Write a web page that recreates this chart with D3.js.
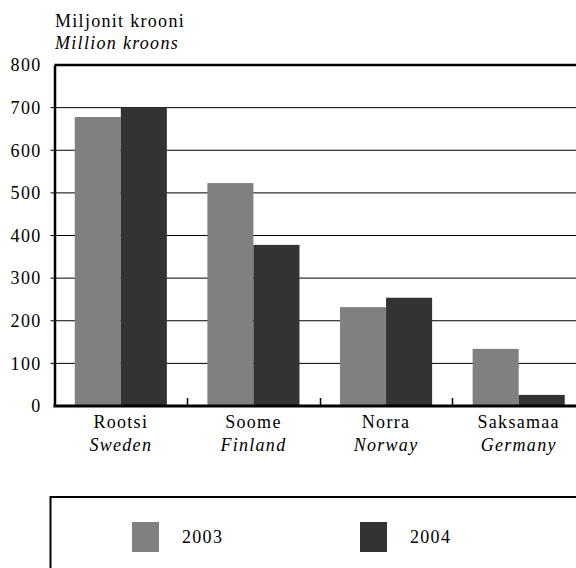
<!DOCTYPE html>
<html><head><meta charset="utf-8">
<script src="https://cdn.jsdelivr.net/npm/d3@7"></script>
<style>
html,body{margin:0;padding:0;background:#fff;overflow:hidden;}
svg text{font-family:"Liberation Serif","Times New Roman",serif;fill:#000;font-size:18px;letter-spacing:1.3px;}
</style></head>
<body>
<svg id="chart" width="576" height="568"></svg>
<script>
const categories = ["Rootsi", "Soome", "Norra", "Saksamaa"];
const categoriesEn = ["Sweden", "Finland", "Norway", "Germany"];
const seriesNames = ["2003", "2004"];
const values2003 = [678, 523, 232, 134];
const values2004 = [700, 378, 254, 26];
const yTicks = [0, 100, 200, 300, 400, 500, 600, 700, 800];
const colors = ["#808080", "#333333"];

const svg = d3.select("#chart");
const mLeft = 54.5, mRight = 585, mTop = 65, mBottom = 406;

const x = d3.scaleBand().domain(categories).range([mLeft, mRight]).paddingInner(0).paddingOuter(0);
const x1 = d3.scaleBand().domain(seriesNames).range([0, x.bandwidth()]).paddingInner(0).paddingOuter(0.44);
const y = d3.scaleLinear().domain([0, 800]).range([mBottom, mTop]);

// gridlines
svg.append("g").selectAll("line").data(yTicks.filter(d => d > 0 && d < 800)).join("line")
  .attr("x1", mLeft - 4).attr("x2", mRight).attr("y1", d => y(d)).attr("y2", d => y(d))
  .attr("stroke", "#000").attr("stroke-width", 1);

// bars
const data = categories.map((c, i) => ({c, vals: [values2003[i], values2004[i]]}));
const groups = svg.append("g").selectAll("g").data(data).join("g")
  .attr("transform", d => `translate(${x(d.c)},0)`);
groups.selectAll("rect").data(d => d.vals.map((v, j) => ({s: seriesNames[j], v, j}))).join("rect")
  .attr("x", d => x1(d.s)).attr("width", x1.bandwidth())
  .attr("y", d => y(d.v)).attr("height", d => mBottom - y(d.v))
  .attr("fill", d => colors[d.j]);

// top border
svg.append("line").attr("x1", mLeft).attr("x2", mRight).attr("y1", mTop).attr("y2", mTop)
  .attr("stroke", "#000").attr("stroke-width", 2.5);

// y axis
const yAxis = d3.axisLeft(y).tickValues(yTicks).tickSize(0).tickPadding(13);
const ya = svg.append("g").attr("transform", `translate(${mLeft},0)`).call(yAxis);
ya.attr("font-family", null).attr("font-size", null);
ya.select(".domain").attr("stroke", "#000").attr("stroke-width", 2.5);
ya.selectAll("text").attr("fill", "#000");

// category separator ticks
svg.append("g").selectAll("line").data(categories.slice(1)).join("line")
  .attr("x1", d => Math.round(x(d)) + 0.5).attr("x2", d => Math.round(x(d)) + 0.5)
  .attr("y1", mBottom - 8).attr("y2", mBottom)
  .attr("stroke", "#000").attr("stroke-width", 1.5);

// x axis line
svg.append("line").attr("x1", mLeft - 1).attr("x2", mRight).attr("y1", mBottom).attr("y2", mBottom)
  .attr("stroke", "#000").attr("stroke-width", 3);

// category labels
categories.forEach((c, i) => {
  const cx = x(c) + x.bandwidth() / 2;
  svg.append("text").attr("x", cx).attr("y", 428).attr("text-anchor", "middle").text(c);
  svg.append("text").attr("x", cx).attr("y", 451).attr("text-anchor", "middle")
    .style("font-style", "italic").text(categoriesEn[i]);
});

// unit title
svg.append("text").attr("x", 55).attr("y", 27).text("Miljonit krooni");
svg.append("text").attr("x", 55).attr("y", 49).style("font-style", "italic").text("Million kroons");

// legend
svg.append("rect").attr("x", 50.5).attr("y", 497).attr("width", 540).attr("height", 100)
  .attr("fill", "none").attr("stroke", "#000").attr("stroke-width", 2);
const legX = [132, 360];
seriesNames.forEach((s, i) => {
  svg.append("rect").attr("x", legX[i]).attr("y", 522).attr("width", 27).attr("height", 30).attr("fill", colors[i]);
  svg.append("text").attr("x", legX[i] + 50).attr("y", 543).text(s);
});
</script>
</body></html>
